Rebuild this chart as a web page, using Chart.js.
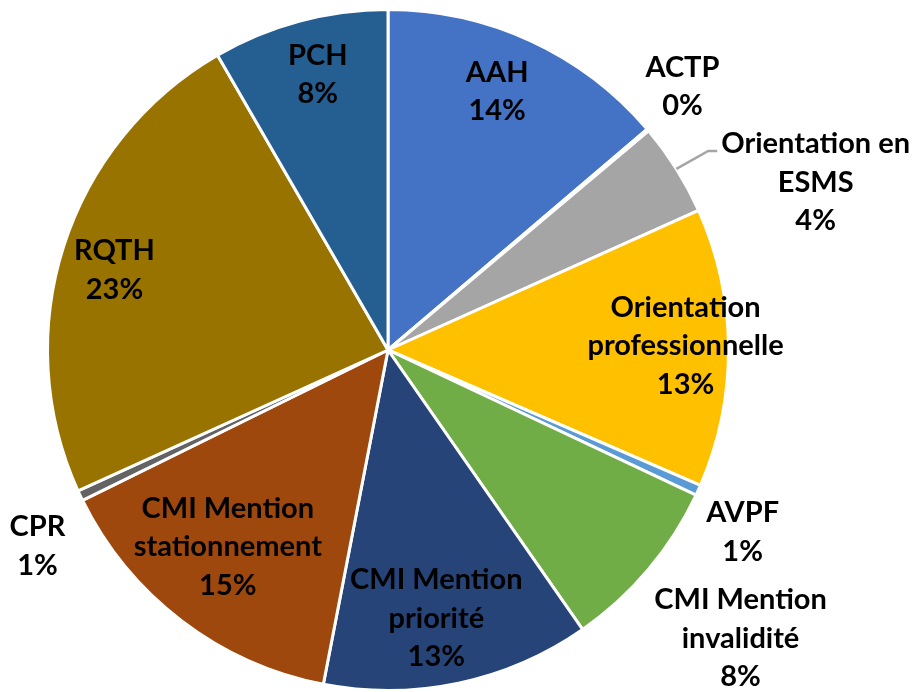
<!DOCTYPE html>
<html>
<head>
<meta charset="utf-8">
<script src="https://cdn.jsdelivr.net/npm/chart.js@4"></script>
<style>
  html, body { margin: 0; padding: 0; background: #fff; }
  #wrap { width: 920px; height: 692px; }
</style>
</head>
<body>
<div id="wrap"><canvas id="pie" width="920" height="692"></canvas></div>
<script>
// ---- Data (share of requests, %) -------------------------------------------
// Slice order runs clockwise from 12 o'clock.
const categories = [
    'AAH', 'ACTP', 'Orientation en ESMS', 'Orientation professionnelle', 'AVPF',
    'CMI Mention invalidité', 'CMI Mention priorité', 'CMI Mention stationnement',
    'CPR', 'RQTH', 'PCH'
];
const shares = [13.75, 0.1, 4.4, 13.2, 0.5, 8.3, 12.7, 14.65, 0.5, 23.4, 8.33];

// How each label is broken into lines (Excel wraps them this way).
const labelLines = [
    ['AAH'], ['ACTP'], ['Orientation en', 'ESMS'], ['Orientation', 'professionnelle'], ['AVPF'],
    ['CMI Mention', 'invalidité'], ['CMI Mention', 'priorité'], ['CMI Mention', 'stationnement'],
    ['CPR'], ['RQTH'], ['PCH']
];

// Office palette, one colour per slice.
const sliceColors = [
    '#4472C4', '#ED7D31', '#A5A5A5', '#FFC000', '#5B9BD5',
    '#70AD47', '#264478', '#9E480E', '#636363', '#997300', '#255E91'
];

// Label placement: [distance as fraction of radius, angle clockwise from top in degrees]
const labelPlacement = [
    [0.824, 22.9], [1.16, 48.2], [1.349, 68.6], [0.874, 89.2], [1.171, 117.2],
    [1.338, 129.3], [0.801, 169.8], [0.746, 219.1], [1.18, 240.75], [0.837, 286.3],
    [0.835, 345.7]
];
const leaderIndex = 2; // ESMS label gets a leader line

const LABEL_FONT = 'bold 29px Lato, "Liberation Sans", sans-serif';
const LINE_GAP = 38.5;

// Draws the data labels (no datalabels plugin available offline).
const pieLabels = {
    id: 'pieLabels',
    afterDatasetsDraw(chart) {
        const meta = chart.getDatasetMeta(0);
        const data = chart.data.datasets[0].data;
        const total = data.reduce((a, b) => a + b, 0);
        const c = chart.ctx;
        c.save();
        c.font = LABEL_FONT;
        c.fillStyle = '#000';
        c.textAlign = 'center';
        c.textBaseline = 'middle';
        meta.data.forEach((arc, i) => {
            const R = arc.outerRadius;
            const p = labelPlacement[i];
            const ang = (p[1] - 90) * Math.PI / 180;
            const x = arc.x + p[0] * R * Math.cos(ang);
            const y = arc.y + p[0] * R * Math.sin(ang);
            const lines = labelLines[i].concat([Math.round(data[i] / total * 100) + '%']);
            const top = y - (lines.length - 1) * LINE_GAP / 2;
            lines.forEach((t, k) => c.fillText(t, x, top + k * LINE_GAP));

            if (i === leaderIndex) {
                const w = c.measureText(lines[0]).width;
                const mid = (arc.startAngle + arc.endAngle) / 2;
                const sx = arc.x + R * Math.cos(mid);
                const sy = arc.y + R * Math.sin(mid);
                const ex = x - w / 2 - 4;
                const ey = top + 7;
                c.strokeStyle = '#A5A5A5';
                c.lineWidth = 2.5;
                c.beginPath();
                c.moveTo(sx, sy);
                c.lineTo(ex - 9, ey);
                c.lineTo(ex, ey);
                c.stroke();
            }
        });
        c.restore();
    }
};

new Chart(document.getElementById('pie'), {
    type: 'pie',
    data: {
        labels: categories,
        datasets: [{
            data: shares,
            backgroundColor: sliceColors,
            borderColor: '#fff',
            borderWidth: 3
        }]
    },
    options: {
        responsive: false,
        animation: false,
        layout: { padding: { left: 46, top: 8, right: 190, bottom: 0 } },
        plugins: {
            legend: { display: false },
            tooltip: { enabled: false }
        }
    },
    plugins: [pieLabels]
});
</script>
</body>
</html>
